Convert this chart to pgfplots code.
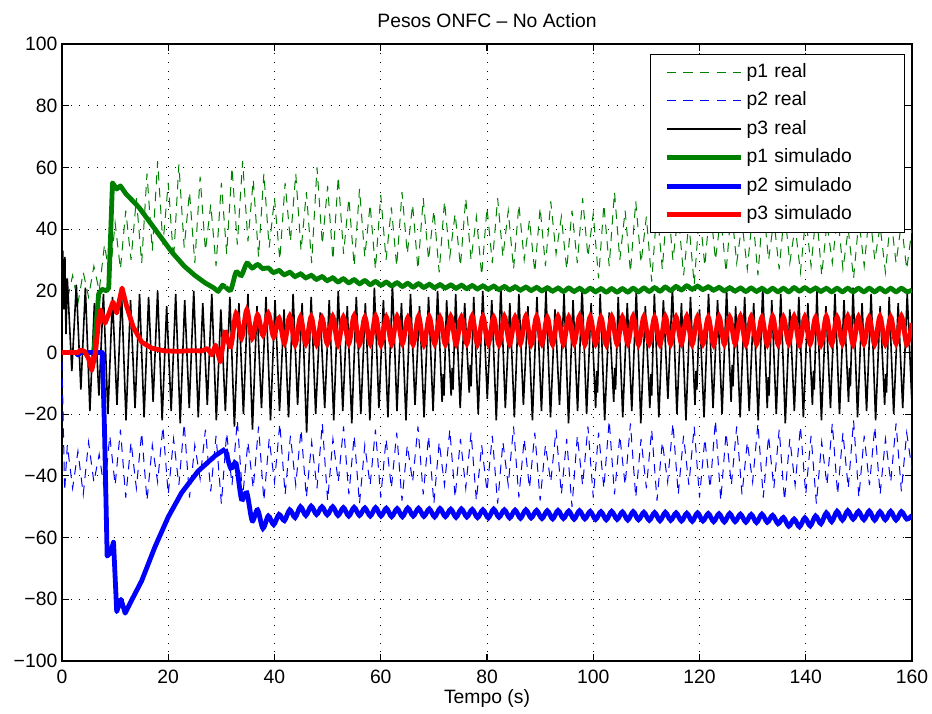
\documentclass[border=0pt]{standalone}
\usepackage{pgfplots}
\pgfplotsset{compat=1.18}
\usepackage{pgfplotstable}
\usepackage{fontspec}
\setmainfont{Liberation Sans}
\definecolor{mgreen}{RGB}{0,128,0}
\definecolor{mblue}{RGB}{0,0,255}
\definecolor{mred}{RGB}{255,0,0}

\pgfplotstableread{
t r g b
30.75 7.3 21.3 -31.3
31.76 1.9 20.3 -37.5
32.77 12.7 26.0 -36.0
33.78 4.6 25.0 -47.5
34.79 13.8 28.9 -45.5
35.80 4.6 27.4 -54.5
36.81 12.2 28.5 -51.0
37.82 5.6 27.2 -57.0
38.83 12.7 27.4 -53.0
39.84 5.0 25.9 -55.8
40.85 11.2 26.6 -52.5
41.86 3.0 25.2 -54.5
42.87 11.8 26.0 -51.0
43.88 2.5 24.6 -53.5
44.89 11.5 25.5 -50.0
45.90 2.8 24.2 -52.8
46.91 11.6 25.0 -49.8
47.92 2.6 23.7 -52.5
48.93 11.3 24.6 -50.0
49.94 2.8 23.3 -52.6
50.95 11.7 24.2 -50.0
51.96 2.5 22.9 -52.8
52.97 11.5 23.9 -50.3
53.98 2.9 22.6 -53.0
54.99 11.9 23.6 -50.2
56.00 2.6 22.3 -52.8
57.01 11.4 23.3 -50.4
58.02 2.8 22.0 -53.0
59.03 11.8 23.0 -50.3
60.04 2.5 21.8 -53.0
61.05 11.5 22.8 -50.5
62.06 2.7 21.6 -53.2
63.07 11.7 22.6 -50.6
64.08 2.9 21.4 -53.2
65.09 11.3 22.4 -50.4
66.10 2.6 21.2 -53.0
67.11 11.8 22.3 -50.5
68.12 2.5 21.1 -53.1
69.13 11.6 22.1 -50.7
70.14 2.8 21.0 -53.3
71.15 11.4 22.0 -50.6
72.16 2.6 20.9 -53.2
73.17 11.7 21.9 -50.8
74.18 2.7 20.8 -53.4
75.19 11.5 21.8 -50.7
76.20 2.9 20.7 -53.3
77.21 11.8 21.7 -50.9
78.22 2.6 20.6 -53.5
79.23 11.6 21.6 -51.0
80.24 2.8 20.5 -53.6
81.25 11.4 21.5 -50.8
82.26 2.5 20.4 -53.4
83.27 11.7 21.4 -51.0
84.28 2.7 20.3 -53.6
85.29 11.5 21.3 -51.1
86.30 2.9 20.2 -53.7
87.31 11.8 21.2 -51.0
88.32 2.6 20.1 -53.6
89.33 11.6 21.1 -51.2
90.34 2.8 20.0 -53.8
91.35 11.4 21.0 -51.3
92.36 2.6 19.9 -53.9
93.37 11.7 20.9 -51.2
94.38 2.7 19.8 -53.8
95.39 11.5 20.9 -51.4
96.40 2.9 19.8 -54.0
97.41 11.8 20.8 -51.3
98.42 2.6 19.7 -53.9
99.43 11.6 20.8 -51.5
100.44 2.8 19.7 -54.1
101.45 11.4 20.7 -51.6
102.46 2.5 19.6 -54.2
103.47 11.7 20.7 -51.5
104.48 2.7 19.6 -54.1
105.49 11.5 20.7 -51.7
106.50 2.9 19.6 -54.3
107.51 11.8 20.8 -51.6
108.52 2.6 19.7 -54.2
109.53 11.6 20.9 -51.8
110.54 2.8 19.8 -54.4
111.55 11.4 21.0 -51.9
112.56 2.6 19.9 -54.5
113.57 11.7 21.2 -51.8
114.58 2.7 20.1 -54.4
115.59 11.5 21.4 -52.0
116.60 2.9 20.3 -54.6
117.61 11.8 21.6 -52.1
118.62 2.6 20.5 -54.7
119.63 11.6 21.5 -52.0
120.64 2.8 20.4 -54.6
121.65 11.4 21.3 -52.2
122.66 2.5 20.2 -54.8
123.67 11.7 21.1 -52.3
124.68 2.7 20.0 -54.9
125.69 11.5 21.0 -52.2
126.70 2.9 19.9 -54.8
127.71 11.8 20.9 -52.4
128.72 2.6 19.8 -55.0
129.73 11.6 20.9 -52.5
130.74 2.8 19.8 -55.1
131.75 11.4 20.8 -52.4
132.76 2.6 19.7 -55.0
133.77 11.7 20.8 -52.8
134.78 2.7 19.7 -55.5
135.79 11.5 20.8 -53.5
136.80 2.9 19.7 -56.3
137.81 11.8 21.0 -54.0
138.82 2.6 19.9 -56.5
139.83 11.6 21.0 -53.6
140.84 2.8 19.9 -56.2
141.85 11.4 20.9 -53.0
142.86 2.5 19.8 -55.5
143.87 11.7 20.8 -52.0
144.88 2.7 19.7 -54.8
145.89 11.5 20.8 -51.5
146.90 2.9 19.7 -54.3
147.91 11.8 20.8 -51.3
148.92 2.6 19.7 -54.0
149.93 11.6 20.8 -51.5
150.94 2.8 19.7 -54.2
151.95 11.4 20.8 -51.4
152.96 2.6 19.7 -54.3
153.97 11.7 20.8 -51.6
154.98 2.7 19.7 -54.2
155.99 11.5 20.8 -51.5
157.00 2.9 19.7 -54.3
158.01 11.8 20.8 -51.6
159.02 2.6 19.7 -54.0
160.00 9.5 20.2 -52.8
}\simtab

\pgfplotstableread{
t v
0 18
0.15 33
0.35 14
0.55 31
0.75 6
1.0 24
1.85 -6
2.7 22
3.55 -12
4.4 21
5.25 -19
6.1 16
6.95 -14
7.8 19
8.65 -20
9.5 18
10.35 -17
11.2 20
12.05 -22
12.9 17
13.75 -18
14.6 19
15.45 -21
16.3 18
17.15 -16
18.0 20
18.85 -22
19.7 15
20.55 -19
21.4 19
22.25 -23
23.1 17
23.95 -18
24.8 20
25.65 -21
26.5 16
27.35 -17
28.2 19
29.05 -22
29.9 14
30.75 -19
31.6 18
32.45 -24
33.3 16
34.15 -20
35.0 19
35.85 -25
36.7 15
37.55 -18
38.4 18
39.25 -22
40.1 17
40.95 -19
41.8 14
42.65 -21
43.5 19
44.35 -17
45.2 16
46.05 -26
46.9 18
47.75 -20
48.6 13
49.45 -18
50.3 17
51.15 -22
52.0 20
52.85 -19
53.7 15
54.55 -23
55.4 18
56.25 -20
57.1 16
57.95 -22
58.8 21
59.65 -18
60.5 17
61.35 -21
62.2 22
63.05 -19
63.9 16
64.75 -22
65.6 19
66.45 -17
67.3 15
68.15 -21
69.0 18
69.85 -19
70.7 20
71.55 -16
71.75 -7
71.9 -14
72.4 17
73.25 -14
73.45 -5
73.6 -12
74.1 19
74.95 -18
75.8 16
76.65 -13
76.85 -4
77.0 -11
77.5 18
78.35 -20
79.2 20
80.05 -15
80.9 17
81.75 -22
82.6 21
83.45 -18
84.3 16
85.15 -21
86.0 19
86.85 -17
87.7 15
88.55 -22
89.4 18
90.25 -19
91.1 20
91.95 -21
92.8 14
93.65 -17
94.5 19
95.35 -23
96.2 17
97.05 -19
97.9 21
98.75 -20
99.6 16
100.45 -18
100.65 -6
100.8 -13
101.3 19
102.15 -22
103.0 13
103.85 -16
104.05 -5
104.2 -12
104.7 18
105.55 -21
106.4 16
107.25 -19
108.1 20
108.95 -23
109.8 15
110.65 -18
110.85 -7
111.0 -14
111.5 19
112.35 -21
113.2 17
114.05 -15
114.9 21
115.75 -20
116.6 16
117.45 -22
118.3 18
119.15 -17
119.35 -6
119.5 -12
120.0 14
120.85 -21
121.7 19
122.55 -18
123.4 17
124.25 -20
125.1 20
125.95 -16
126.15 -4
126.3 -11
126.8 15
127.65 -21
128.5 18
129.35 -19
130.2 16
131.05 -22
131.9 21
132.75 -18
132.95 -8
133.1 -14
133.6 17
134.45 -20
135.3 19
136.15 -23
137.0 14
137.85 -19
138.7 18
139.55 -21
140.4 16
141.25 -17
141.45 -6
141.6 -12
142.1 20
142.95 -22
143.8 15
144.65 -18
145.5 19
146.35 -20
147.2 17
148.05 -16
148.25 -5
148.4 -11
148.9 21
149.75 -21
150.6 16
151.45 -19
152.3 19
153.15 -22
154.0 15
154.85 -17
155.05 -7
155.2 -13
155.7 18
156.55 -20
157.4 16
158.25 -18
159.1 19
159.95 -15
160 -8
}\realthree

\pgfplotstableread{
t v
0 27
1 17
2 25
3 16
4 26
5 18
6 28
7 20
8 35
9 24
10 42
11 27
12 46
13 30
14 50
15 29
16 58
17 33
18 62
19 35
20 55
21 30
22 61
23 34
24 52
25 29
26 57
27 33
28 48
29 28
30 55
31 32
32 60
33 35
34 62
35 36
36 56
37 31
38 58
39 34
40 50
41 30
42 55
43 36
44 58
45 33
46 52
47 29
48 60
49 35
50 54
51 30
52 57
53 32
54 50
55 28
56 53
57 31
58 48
59 27
60 51
61 30
62 47
63 28
64 52
65 32
66 48
67 27
68 50
69 30
70 46
71 26
72 49
73 31
74 45
75 28
76 50
77 30
78 44
79 25
80 47
81 29
82 50
83 31
84 46
85 27
86 48
87 30
88 43
89 26
90 47
91 28
92 49
93 32
94 44
95 27
96 46
97 29
98 50
99 31
100 45
101 24
102 48
103 28
104 52
105 30
106 46
107 26
108 49
109 29
110 44
111 23
112 47
113 27
114 50
115 30
116 45
117 25
118 42
119 22
120 46
121 28
122 48
123 30
124 44
125 26
126 47
127 29
128 42
129 27
130 45
131 25
132 48
133 30
134 43
135 27
136 46
137 29
138 41
139 26
140 44
141 28
142 46
143 25
144 42
145 29
146 45
147 27
148 40
149 24
150 43
151 28
152 46
153 30
154 41
155 26
156 44
157 29
158 42
159 27
160 40
}\realone

\pgfplotstableread{
t v
0 -3
0.5 -45
1 -30
2 -44
3 -32
4 -46
5 -29
6 -42
7 -33
8 -45
9 -27
10 -43
11 -25
12 -47
13 -29
14 -44
15 -26
16 -48
17 -30
18 -42
19 -24
20 -46
21 -28
22 -43
23 -23
24 -47
25 -30
26 -41
27 -25
28 -45
29 -27
30 -49
31 -26
32 -43
33 -22
34 -47
35 -29
36 -44
37 -24
38 -48
39 -28
40 -42
41 -23
42 -46
43 -27
44 -43
45 -25
46 -47
47 -29
48 -44
49 -23
50 -48
51 -28
52 -42
53 -24
54 -46
55 -27
56 -49
57 -30
58 -43
59 -25
60 -47
61 -28
62 -44
63 -26
64 -48
65 -30
66 -42
67 -24
68 -46
69 -27
70 -49
71 -29
72 -43
73 -25
74 -47
75 -28
76 -44
77 -26
78 -48
79 -30
80 -45
81 -27
82 -49
83 -29
84 -43
85 -24
86 -47
87 -28
88 -44
89 -26
90 -48
91 -30
92 -42
93 -25
94 -46
95 -28
96 -50
97 -27
98 -43
99 -24
100 -47
101 -26
102 -44
103 -22
104 -46
105 -27
106 -43
107 -23
108 -47
109 -28
110 -44
111 -25
112 -48
113 -29
114 -42
115 -23
116 -46
117 -27
118 -43
119 -24
120 -47
121 -28
122 -44
123 -22
124 -48
125 -26
126 -43
127 -24
128 -46
129 -29
130 -42
131 -23
132 -47
133 -27
134 -44
135 -25
136 -48
137 -28
138 -43
139 -24
140 -46
141 -27
142 -49
143 -29
144 -43
145 -23
146 -46
147 -26
148 -44
149 -22
150 -47
151 -27
152 -43
153 -24
154 -46
155 -28
156 -42
157 -23
158 -45
159 -26
160 -38
}\realtwo

\begin{document}
\begin{tikzpicture}
\useasboundingbox (-46.5pt,-39.75pt) rectangle (652.5pt,495.75pt);
\begin{axis}[
  at={(0,0)}, anchor=south west,
  scale only axis, width=637.5pt, height=462.75pt,
  xmin=0, xmax=160, ymin=-100, ymax=100,
  xtick={0,20,...,160}, ytick={-100,-80,...,100},
  xticklabels={0,20,40,60,80,100,120,140,160},
  yticklabels={−100,−80,−60,−40,−20,0,20,40,60,80,100},
  tick label style={font=\fontsize{14.5}{17}\selectfont},
  xticklabel style={yshift=-3pt},
  label style={font=\fontsize{14.5}{17}\selectfont},
  title style={font=\fontsize{14.5}{17}\selectfont, at={(0.5,1)}, anchor=south, yshift=3pt},
  title={Pesos ONFC – No Action},
  xlabel={Tempo (s)},
  xlabel style={yshift=2pt},
  grid=major,
  grid style={black, line width=0.6pt, dash pattern=on 0.7pt off 5.8pt},
  axis line style={line width=0.8pt},
  tick style={black, line width=0.8pt},
  major tick length=5pt,
  tick align=inside,
  legend cell align=left,
  legend image code/.code={\draw[#1] (0pt,0pt) -- (56pt,0pt);},
  legend style={at={(0.9918,0.9838)}, anchor=north east, draw=black, line width=0.8pt, fill=white,
    font=\fontsize{14.5}{17}\selectfont, row sep=6.9pt, inner xsep=10.5pt, inner ysep=6pt,
    nodes={text height=11pt, text depth=3.5pt, inner ysep=0pt, text width=106pt, align=left}},
]
\addplot[mgreen, line width=0.75pt, dash pattern=on 7pt off 5.5pt] table[x=t,y=v] {\realone};
\addlegendentry{p1 real}
\addplot[mblue, line width=0.75pt, dash pattern=on 7pt off 5.5pt] table[x=t,y=v] {\realtwo};
\addlegendentry{p2 real}
\addplot[black, line width=1.2pt] table[x=t,y=v] {\realthree};
\addlegendentry{p3 real}
\addplot[mgreen, line width=3.6pt, line join=round] coordinates {
(0,0) (6.0,0) (6.9,19) (7.5,20.5) (8.4,20) (8.8,21) (9.5,55) (10.3,53) (11.0,54) (12,51.5)
(14.5,47) (17.5,40) (20.7,32.5) (23,28) (25,25) (27,22.5) (28.5,21) (29.4,19.8) (30.2,21.8) (30.75,21.3)};
\addlegendentry{p1 simulado}
\addplot[mblue, line width=3.6pt, line join=round] coordinates {
(0,0) (2.6,0) (3.0,-0.8) (3.6,0.2) (4.2,0) (7.6,0) (8.0,-25) (8.5,-66) (9.1,-65) (9.7,-61.5)
(10.3,-84) (11.1,-80) (11.9,-84.5) (13.2,-80) (15,-74) (17.5,-63) (20,-53.3) (22.5,-45.5)
(25.6,-38.5) (28.8,-33.5) (30.1,-32) (30.75,-31.3)};
\addlegendentry{p2 simulado}
\addplot[mred, line width=3.6pt, line join=round] coordinates {
(0,0) (3.0,0) (3.5,0.8) (4.3,0.3) (5.0,-2) (5.6,-5.8) (6.3,0) (7.0,12) (7.3,13.8) (8.1,9.5)
(8.7,12) (9.6,16.4) (10.3,12.8) (11.3,20.9) (12.2,14.8) (13.4,8.3) (15.0,3.4) (16.9,1.4)
(19.4,0.5) (22,0.4) (24.5,0.6) (26.3,0.5) (27.4,1.3) (28.2,-0.8) (28.9,2.4) (29.8,-3.0) (30.75,7.3)};
\addlegendentry{p3 simulado}
\addplot[mgreen, line width=3.6pt, smooth, forget plot] table[x=t,y=g] {\simtab};
\addplot[mblue, line width=3.6pt, smooth, forget plot] table[x=t,y=b] {\simtab};
\addplot[mred, line width=3.6pt, smooth, forget plot] table[x=t,y=r] {\simtab};
\end{axis}
\end{tikzpicture}
\end{document}
